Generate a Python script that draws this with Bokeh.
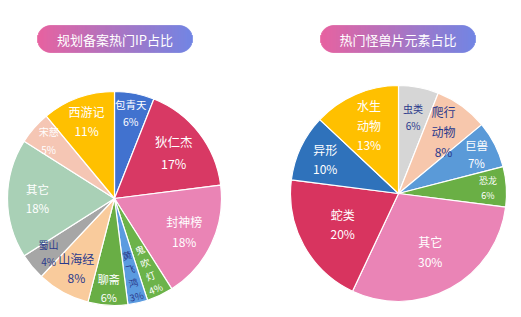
import math
from bokeh.plotting import figure
from bokeh.models import ColumnDataSource, Range1d
from bokeh.core.properties import value
from bokeh.embed import file_html
from bokeh.resources import INLINE

W, H = 521, 317

# ---- data ----
left_title = "规划备案热门IP占比"
left_names = ["包青天", "狄仁杰", "封神榜", "鬼\n吹\n灯", "黄\n飞\n鸿", "聊斋", "山海经", "蜀山", "其它", "宋慈", "西游记"]
left_values = [6, 17, 18, 4, 3, 6, 8, 4, 18, 5, 11]
left_colors = ["#4172cf", "#d83964", "#ea84b5", "#6cb34a", "#5b9be0", "#69ae45",
               "#f9cb9c", "#a6a6a6", "#a9d0b6", "#f5c6b4", "#ffc000"]

right_title = "热门怪兽片元素占比"
right_names = ["虫类", "爬行\n动物", "巨兽", "恐龙", "其它", "蛇类", "异形", "水生\n动物"]
right_values = [6, 8, 7, 6, 30, 20, 10, 13]
right_colors = ["#d6d6d6", "#f7c7ac", "#5a9ad8", "#6aaf45", "#ea84b6", "#d8345f", "#2f72bb", "#ffc000"]

# ---- layout / style ----
NAVY = "#2b3a8c"
left_label_frac = [0.81, 0.70, 0.72, 0.73, 0.74, 0.84, 0.74, 0.80, 0.72, 0.82, 0.77]
left_label_size = [10.5, 12.5, 12, 9.5, 9.5, 11, 12, 10, 11.5, 10, 12]
left_label_angle = [0, 0, 0, 22, 13, 0, 0, 0, 0, 0, 0]
left_label_lh = [1.15, 1.15, 1.15, 1.0, 1.0, 1.15, 1.15, 1.15, 1.15, 1.15, 1.15]
left_label_color = ["white", "white", "white", "white", NAVY, "white", NAVY, NAVY, "white", "white", "white"]

right_label_frac = [0.72, 0.71, 0.81, 0.83, 0.61, 0.59, 0.75, 0.69]
right_label_size = [10, 12, 11.5, 9, 12, 12, 12, 12]
right_label_angle = [0] * 8
right_label_lh = [1.15] * 8
right_label_color = [NAVY, NAVY, "white", "white", "white", "white", "white", "white"]

p = figure(width=W, height=H, x_range=Range1d(0, W), y_range=Range1d(0, H),
           output_backend="svg", toolbar_location=None, min_border=0)
p.axis.visible = False
p.grid.visible = False
p.outline_line_color = None
p.background_fill_color = "white"
p.border_fill_color = "white"

FONT = "Noto Sans CJK SC"


def draw_pie(cx, cy_screen, r, names, values, colors, fracs, sizes, angles, lhs, tcolors):
    cy = H - cy_screen
    total = float(sum(values))
    starts, ends, lx, ly, texts = [], [], [], [], []
    cum = 0.0
    for i, v in enumerate(values):
        a0 = cum / total
        a1 = (cum + v) / total
        starts.append(math.pi / 2 - 2 * math.pi * a0)
        ends.append(math.pi / 2 - 2 * math.pi * a1)
        mid = 2 * math.pi * (a0 + a1) / 2
        d = fracs[i] * r
        lx.append(cx + d * math.sin(mid))
        ly.append(cy + d * math.cos(mid))
        texts.append(names[i] + "\n" + f"{v}%")
        cum += v
    src = ColumnDataSource(dict(x=[cx] * len(values), y=[cy] * len(values),
                                s=starts, e=ends, c=colors))
    p.wedge(x="x", y="y", radius=r, start_angle="s", end_angle="e", direction="clock",
            fill_color="c", line_color="white", line_width=1.2, source=src)
    for lh in sorted(set(lhs)):
        idx = [i for i in range(len(values)) if lhs[i] == lh]
        tsrc = ColumnDataSource(dict(x=[lx[i] for i in idx], y=[ly[i] for i in idx],
                                     t=[texts[i] for i in idx],
                                     fs=[f"{sizes[i]}px" for i in idx],
                                     a=[math.radians(angles[i]) for i in idx],
                                     tc=[tcolors[i] for i in idx]))
        p.text(x="x", y="y", text="t", angle="a", text_font_size="fs", text_color="tc",
               text_font=value(FONT), text_align="center", text_baseline="middle",
               text_line_height=lh, source=tsrc)


def draw_pill(cx, cy_screen, w, h, text):
    cy = H - cy_screen
    R = h / 2.0
    n = int(w)
    left = cx - w / 2.0
    c0 = (0xE6, 0x5C, 0x9C)
    c1 = (0x6C, 0x80, 0xE2)
    ls, rs, bs, ts, cs = [], [], [], [], []
    for i in range(n):
        x0 = left + i * w / n
        x1 = x0 + w / n
        xm = (x0 + x1) / 2
        if xm < left + R:
            dx = left + R - xm
        elif xm > left + w - R:
            dx = xm - (left + w - R)
        else:
            dx = 0
        hh = math.sqrt(max(R * R - dx * dx, 0))
        t = i / (n - 1)
        col = "#%02x%02x%02x" % tuple(int(round(c0[k] + (c1[k] - c0[k]) * t)) for k in range(3))
        ls.append(x0); rs.append(x1); bs.append(cy - hh); ts.append(cy + hh); cs.append(col)
    src = ColumnDataSource(dict(l=ls, r=rs, b=bs, t=ts, c=cs))
    p.quad(left="l", right="r", bottom="b", top="t", fill_color="c", line_color="c",
           line_width=0.6, source=src)
    p.text(x=[cx], y=[cy], text=[text], text_font=value(FONT), text_font_size="13px",
           text_color="white", text_align="center", text_baseline="middle")


draw_pill(114.5, 38.5, 155, 27, left_title)
draw_pill(397.5, 38.5, 155, 27, right_title)

draw_pie(114, 198, 107, left_names, left_values, left_colors,
         left_label_frac, left_label_size, left_label_angle, left_label_lh, left_label_color)
draw_pie(398, 193, 108, right_names, right_values, right_colors,
         right_label_frac, right_label_size, right_label_angle, right_label_lh, right_label_color)

open("out.html", "w").write(file_html(p, INLINE))
